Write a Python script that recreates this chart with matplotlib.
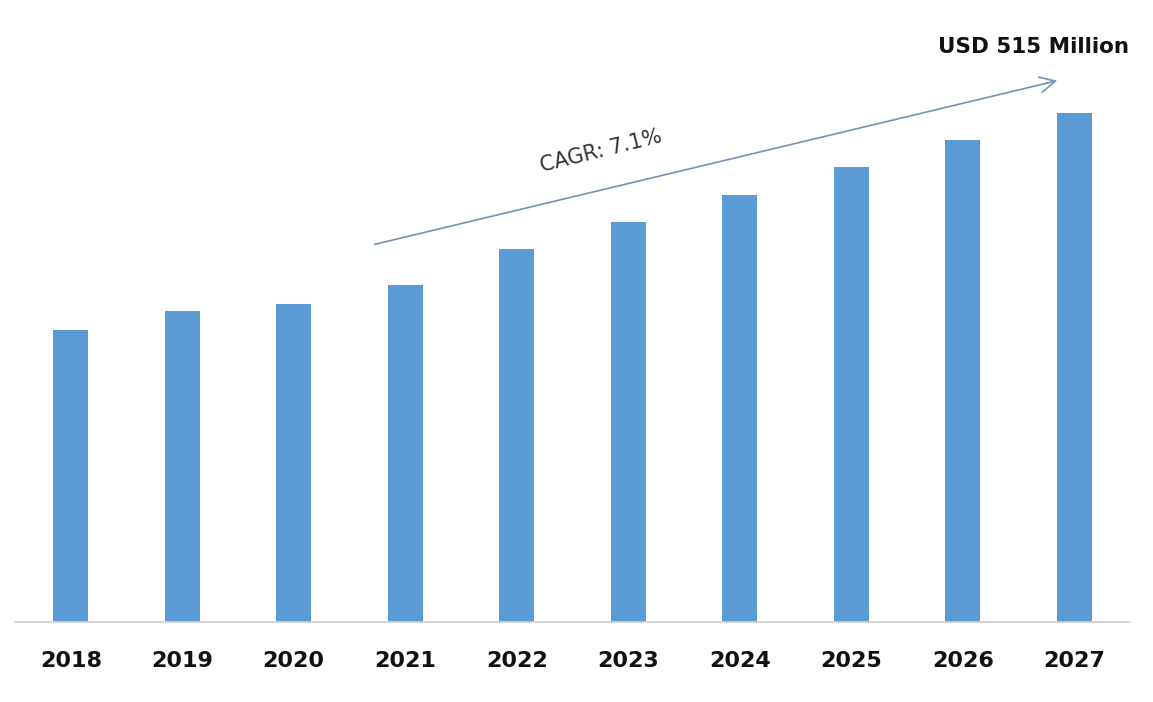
import matplotlib
matplotlib.use("Agg")
from matplotlib import pyplot as plt

years = ["2018", "2019", "2020", "2021", "2022", "2023", "2024", "2025", "2026", "2027"]
values = [295, 315, 322, 341, 377, 405, 432, 460, 488, 515]

W, H = 1153, 702
fig = plt.figure(figsize=(W / 100, H / 100), dpi=100)
fig.patch.set_facecolor("white")

ax = fig.add_axes([15 / W, 80 / H, 1115 / W, 622 / H])
ax.bar(range(len(years)), values, width=0.31, color="#5b9bd5")
ax.set_xlim(-0.5, len(years) - 0.5)
ax.set_ylim(0, 629.3)

for s in ["top", "right", "left"]:
    ax.spines[s].set_visible(False)
ax.spines["bottom"].set_color("#cfcfcf")
ax.spines["bottom"].set_linewidth(1.2)
ax.set_yticks([])
ax.set_xticks(range(len(years)))
ax.set_xticklabels(years, fontsize=16, fontweight="bold", color="#111111")
ax.tick_params(axis="x", length=0, pad=21)

# CAGR arrow
ax.annotate("", xy=(1060 / W, 1 - 80 / H), xytext=(372 / W, 1 - 245 / H),
            xycoords="figure fraction", textcoords="figure fraction",
            arrowprops=dict(arrowstyle="->", color="#7393b8", lw=1.2,
                            mutation_scale=28))
fig.text(601 / W, 1 - 151 / H, "CAGR: 7.1%", fontsize=15, color="#333333",
         rotation=14, ha="center", va="center")
fig.text(1033 / W, 1 - 47 / H, "USD 515 Million", fontsize=15.5, fontweight="bold",
         color="#111111", ha="center", va="center")

fig.savefig("out.png", dpi=100)
